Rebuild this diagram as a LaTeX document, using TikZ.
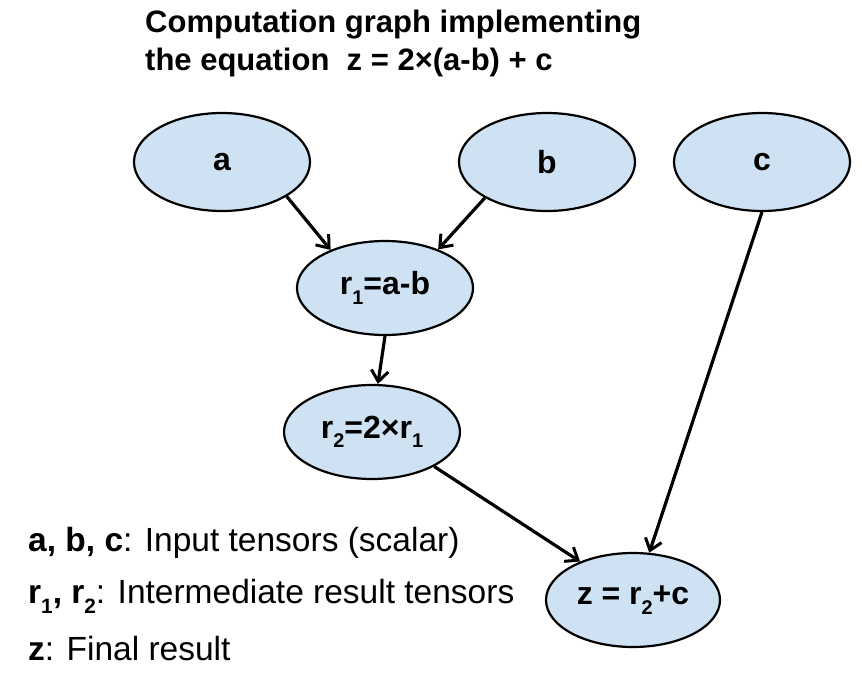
\documentclass[tikz,border=0pt]{standalone}
\usepackage{fontspec}
\setmainfont{Liberation Sans}
\usetikzlibrary{shapes.geometric,arrows.meta}
\definecolor{nodefill}{RGB}{207,226,243}
\newcommand\sbs[1]{\raisebox{-0.3em}{\scalebox{0.62}{#1}}}
\begin{document}
\begin{tikzpicture}[x=1pt,y=-1pt,
  oval/.style={ellipse,draw=black,line width=2.2pt,fill=nodefill,minimum width=176pt,minimum height=98pt,inner sep=0pt,font=\fontsize{32}{36}\selectfont\bfseries},
  conn/.style={line width=3.2pt,-{Straight Barb[length=11pt,width=17pt,line width=3pt]}},
  legend/.style={anchor=base west,inner sep=0pt,font=\fontsize{33.5}{38}\selectfont},
  title/.style={anchor=base west,inner sep=0pt,font=\fontsize{31}{38}\selectfont\bfseries}]
\useasboundingbox (0,0) rectangle (862,674);
\node[title] (t1) at (145,33) {Computation graph implementing};
\node[title] (t2) at (145,71) {the equation\ \ z = 2×(a-b) + c};
\node[oval] (a) at (222,162) {a};
\node[oval] (b) at (547,162) {b};
\node[oval] (c) at (762,162) {c};
\node[oval,minimum height=94pt] (r1) at (385,288) {r\sbs{1}=a-b};
\node[oval,minimum height=94pt] (r2) at (372,432) {r\sbs{2}=2×r\sbs{1}};
\node[oval,minimum height=94pt,minimum width=174pt] (z) at (633,600) {z = r\sbs{2}+c};
\draw[conn] (a.-28) -- (r1.145);
\draw[conn] (b.210) -- (r1.36);
\draw[conn] (r1.south) -- (r2.83);
\draw[conn] (r2.-29) -- (z.144);
\draw[conn] (c.south) -- (z.71);
\node[legend] (l1) at (28,551) {\textbf{a, b, c}: Input tensors (scalar)};
\node[legend] (l2) at (28,603) {\textbf{r\sbs{1}, r\sbs{2}}: Intermediate result tensors};
\node[legend] (l3) at (28,660) {\textbf{z}: Final result};
\end{tikzpicture}
\end{document}
